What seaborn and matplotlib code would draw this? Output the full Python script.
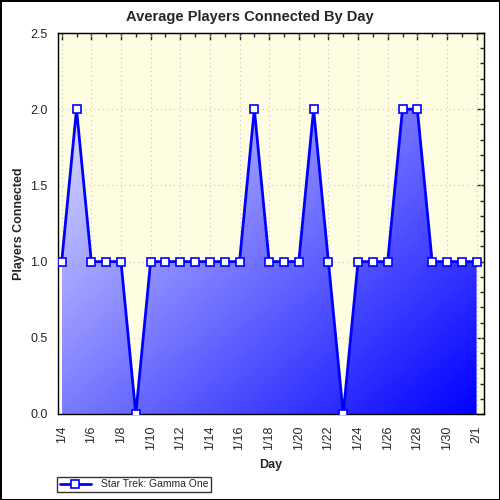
import numpy as np
import pandas as pd
import matplotlib
matplotlib.use("Agg")
import matplotlib.pyplot as plt
import seaborn as sns
from matplotlib.ticker import MultipleLocator, FormatStrFormatter

days = ['1/4', '1/5', '1/6', '1/7', '1/8', '1/9', '1/10', '1/11', '1/12', '1/13',
        '1/14', '1/15', '1/16', '1/17', '1/18', '1/19', '1/20', '1/21', '1/22', '1/23',
        '1/24', '1/25', '1/26', '1/27', '1/28', '1/29', '1/30', '1/31', '2/1']
players = [1, 2, 1, 1, 1, 0, 1, 1, 1, 1,
           1, 1, 1, 2, 1, 1, 1, 2, 1, 0,
           1, 1, 1, 2, 2, 1, 1, 1, 1]
series_name = 'Star Trek: Gamma One'

df = pd.DataFrame({'pos': np.arange(len(days)), 'players': players})

sns.set_style('white')
plt.rcParams['font.family'] = ['Liberation Sans', 'DejaVu Sans']

fig = plt.figure(figsize=(5, 5), dpi=100)
fig.patch.set_edgecolor('black')
fig.patch.set_linewidth(2)
ax = fig.add_axes([0.116, 0.172, 0.852, 0.762])
ax.set_facecolor('#fefde2')

ax.set_xlim(-0.25, len(days) - 1 + 0.5)
ax.set_ylim(0, 2.5)

# gradient fill under the line, light top-left -> blue bottom-right
poly = ax.fill_between(df['pos'], df['players'], 0, color='none', lw=0)
gx, gy = np.meshgrid(np.linspace(0, 1, 200), np.linspace(0, 1, 200))
t = np.clip((gx + gy) / 2.0, 0, 1)
c0 = np.array([0.96, 0.96, 1.0])
c1 = np.array([0.0, 0.0, 1.0])
img = c0[None, None, :] * (1 - t[..., None]) + c1[None, None, :] * t[..., None]
im = ax.imshow(img, extent=[df['pos'].min(), df['pos'].max(), 0, 2.5],
               origin='upper', aspect='auto', zorder=1)
im.set_clip_path(poly.get_paths()[0], transform=ax.transData)

sns.lineplot(data=df, x='pos', y='players', ax=ax, color='#0000ff', lw=2,
             marker='s', markersize=5.5, markerfacecolor='white',
             markeredgecolor='#0000ff', markeredgewidth=1.2, label=series_name,
             zorder=3)

ax.set_xticks(df['pos'][::2])
ax.set_xticklabels(days[::2], rotation=90, fontsize=9)
ax.xaxis.set_minor_locator(MultipleLocator(1))
ax.yaxis.set_major_locator(MultipleLocator(0.5))
ax.yaxis.set_minor_locator(MultipleLocator(0.1))
ax.yaxis.set_major_formatter(FormatStrFormatter('%.1f'))
for lab in ax.get_yticklabels():
    lab.set_fontsize(9)

ax.tick_params(axis='x', which='major', direction='out', length=5, width=1, color='black')
ax.tick_params(axis='x', which='minor', direction='out', length=3, width=1, color='black')
ax.tick_params(axis='y', which='major', direction='inout', length=8, width=1, color='black')
ax.tick_params(axis='y', which='minor', direction='inout', length=5, width=1, color='black')

# inward ticks on top and right
top = ax.secondary_xaxis('top')
top.set_xticks(df['pos'][::2])
top.xaxis.set_minor_locator(MultipleLocator(1))
top.tick_params(which='major', direction='in', length=5, width=1, labeltop=False)
top.tick_params(which='minor', direction='in', length=3, width=1)
right = ax.secondary_yaxis('right')
right.yaxis.set_major_locator(MultipleLocator(0.5))
right.yaxis.set_minor_locator(MultipleLocator(0.1))
right.tick_params(which='major', direction='in', length=5, width=1, labelright=False)
right.tick_params(which='minor', direction='in', length=3, width=1)

ax.grid(True, which='major', color='#c8c8c8', linestyle=(0, (1, 3)), lw=0.8, zorder=0)
ax.set_axisbelow(True)
for sp in ax.spines.values():
    sp.set_color('black')
    sp.set_linewidth(1)

fig.text(0.5, 0.965, 'Average Players Connected By Day', ha='center', va='center',
         fontsize=10.5, fontweight='bold')
ax.set_xlabel('Day', fontsize=9, fontweight='bold', labelpad=6)
ax.set_ylabel('Players Connected', fontsize=9, fontweight='bold', labelpad=4)

handles, labels = ax.get_legend_handles_labels()
ax.get_legend().remove()
leg = fig.legend(handles, labels, loc='lower left', bbox_to_anchor=(0.114, 0.016),
                 fontsize=7.5, frameon=True, fancybox=False, edgecolor='black',
                 borderpad=0.25, handlelength=3, handletextpad=1.0, borderaxespad=0)
leg.get_frame().set_linewidth(1)

fig.savefig('out.png', dpi=100, edgecolor=fig.get_edgecolor())
